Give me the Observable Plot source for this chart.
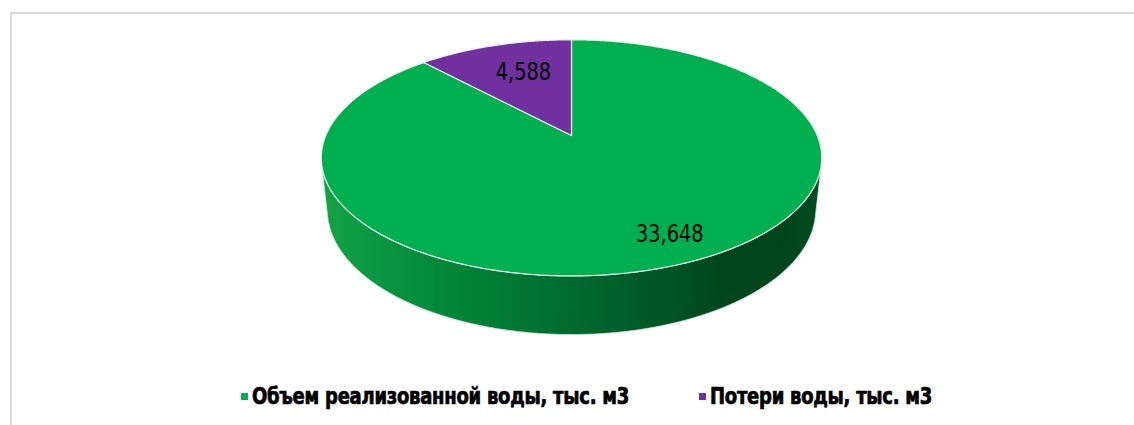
<!DOCTYPE html>
<html><head><meta charset="utf-8">
<script src="https://cdn.jsdelivr.net/npm/d3@7"></script>
<script src="https://cdn.jsdelivr.net/npm/@observablehq/plot@0.6"></script>
<style>
html,body{margin:0;padding:0;background:#fff;}
body{width:1134px;height:425px;overflow:hidden;position:relative;}
#frame{position:absolute;left:10px;top:12px;width:1200px;height:500px;border-left:2px solid #d9d9d9;border-top:2px solid #d9d9d9;box-sizing:border-box;}
#chart{position:absolute;left:0;top:0;}
#legend{position:absolute;left:0;top:370px;width:1134px;height:55px;}
.item{position:absolute;top:13px;height:26px;display:flex;align-items:center;white-space:nowrap;}
.txt{display:inline-block;transform:scaleX(0.87);transform-origin:0 50%;
  font-family:"DejaVu Sans Condensed","DejaVu Sans",sans-serif;font-weight:bold;font-size:23px;color:#000;-webkit-text-stroke:0.7px #000;letter-spacing:-0.3px;}
.sw{width:7px;height:7px;margin-right:4px;display:inline-block;}
</style>
</head><body>
<div id="frame"></div>
<div id="chart"></div>
<div id="legend"></div>
<script>
// ---- data ----
const categories = ["Объем реализованной воды, тыс. м3", "Потери воды, тыс. м3"];
const values = [33648, 4588];
const colors = ["#00B050", "#7030A0"];

// ---- layout / view (3D perspective of the pie) ----
const W = 1134, H = 370;
const view = {cx: 571, cy: 135, K: 1150, D: 4.68, elev: 27.6 * Math.PI / 180, h: 0.24};
const sE = Math.sin(view.elev), cE = Math.cos(view.elev);
function proj(X, Y, Z) {
  const yc = Y * cE + Z * sE, zc = view.D + Z * cE - Y * sE;
  return [view.cx + view.K * X / zc, view.cy - view.K * yc / zc];
}
const rows = categories.map((name, i) => ({name, value: values[i], color: colors[i], i}));
const arcs = d3.pie().sort(null).value(d => d.value)(rows);

const step = Math.PI / 360;
function rimPts(a0, a1, Y) {
  const pts = [];
  const n = Math.max(2, Math.ceil((a1 - a0) / step));
  for (let k = 0; k <= n; k++) {
    const a = a0 + (a1 - a0) * k / n;
    pts.push(proj(Math.sin(a), Y, Math.cos(a)));
  }
  return pts;
}

// top faces
const topPts = [];
arcs.forEach(arc => {
  const c = proj(0, 0, 0);
  topPts.push({slice: arc.data.i, x: c[0], y: c[1], color: arc.data.color});
  rimPts(arc.startAngle, arc.endAngle, 0).forEach(p => topPts.push({slice: arc.data.i, x: p[0], y: p[1], color: arc.data.color}));
});

// visible side wall: cos(a) < -1/(D cos elev)
const vis = Math.acos(-1 / (view.D * cE));
const vLo = vis, vHi = 2 * Math.PI - vis;
const sidePts = [];
arcs.forEach(arc => {
  const lo = Math.max(arc.startAngle, vLo), hi = Math.min(arc.endAngle, vHi);
  if (hi <= lo) return;
  const top = rimPts(lo, hi, 0), bot = rimPts(lo, hi, -view.h).reverse();
  top.concat(bot).forEach(p => sidePts.push({slice: arc.data.i, x: p[0], y: p[1]}));
});
const sx = sidePts.map(d => d.x);
const gx0 = d3.min(sx), gx1 = d3.max(sx);

// labels
const fmt = d3.format(",");
const labelR = [0.80, 0.64];
const labelPts = arcs.map(arc => {
  const m = (arc.startAngle + arc.endAngle) / 2, r = labelR[arc.data.i];
  const p = proj(r * Math.sin(m), 0, r * Math.cos(m));
  return {x: p[0], y: p[1], text: fmt(arc.data.value), i: arc.data.i};
});
const labelFont = "'DejaVu Sans Condensed','DejaVu Sans',sans-serif";

const plot = Plot.plot({
  width: W, height: H,
  margin: 0,
  x: {type: "linear", domain: [0, W], range: [0, W], axis: null},
  y: {type: "linear", domain: [0, H], range: [0, H], axis: null},
  color: {type: "identity"},
  style: {background: "transparent", overflow: "visible"},
  marks: [
    Plot.line(sidePts, {x: "x", y: "y", z: "slice", fill: "url(#sideGrad)", stroke: "#d8e8dc", strokeWidth: 0.8, curve: "linear-closed"}),
    Plot.line(topPts, {x: "x", y: "y", z: "slice", fill: "color", stroke: "#eeeeee", strokeWidth: 1.2, curve: "linear-closed"}),
    Plot.text(labelPts.filter(d => d.i === 0), {x: "x", y: "y", text: "text", dx: 14, dy: 0, fontSize: 25, fill: "#000",
      fontFamily: labelFont, className: "vlabel"}),
    Plot.text(labelPts.filter(d => d.i === 1), {x: "x", y: "y", text: "text", dx: 4, dy: -3, fontSize: 25, fill: "#000",
      fontFamily: labelFont, className: "vlabel"})
  ]
});

// gradient for side wall
const svg = d3.select(plot);
const defs = svg.insert("defs", ":first-child");
const g = defs.append("linearGradient").attr("id", "sideGrad").attr("gradientUnits", "userSpaceOnUse")
  .attr("x1", gx0).attr("x2", gx1).attr("y1", 0).attr("y2", 0);
[[0, "#13a346"], [0.2, "#048c3d"], [0.48, "#006d2f"], [0.66, "#005826"], [0.8, "#00461d"], [0.93, "#00441c"], [1, "#004d21"]]
  .forEach(([o, c]) => g.append("stop").attr("offset", o).attr("stop-color", c));
document.getElementById("chart").appendChild(plot);

// narrow the value labels (reference uses a condensed face)
svg.selectAll(".vlabel text").each(function() {
  const w = this.getComputedTextLength();
  d3.select(this).attr("textLength", w * 0.86).attr("lengthAdjust", "spacingAndGlyphs");
});

// legend
const legendX = [241, 699];
const leg = d3.select("#legend");
rows.forEach((r, i) => {
  const it = leg.append("div").attr("class", "item").style("left", legendX[i] + "px");
  it.append("span").attr("class", "sw").style("background", r.color);
  it.append("span").attr("class", "txt").text(r.name);
});
</script>
</body></html>
